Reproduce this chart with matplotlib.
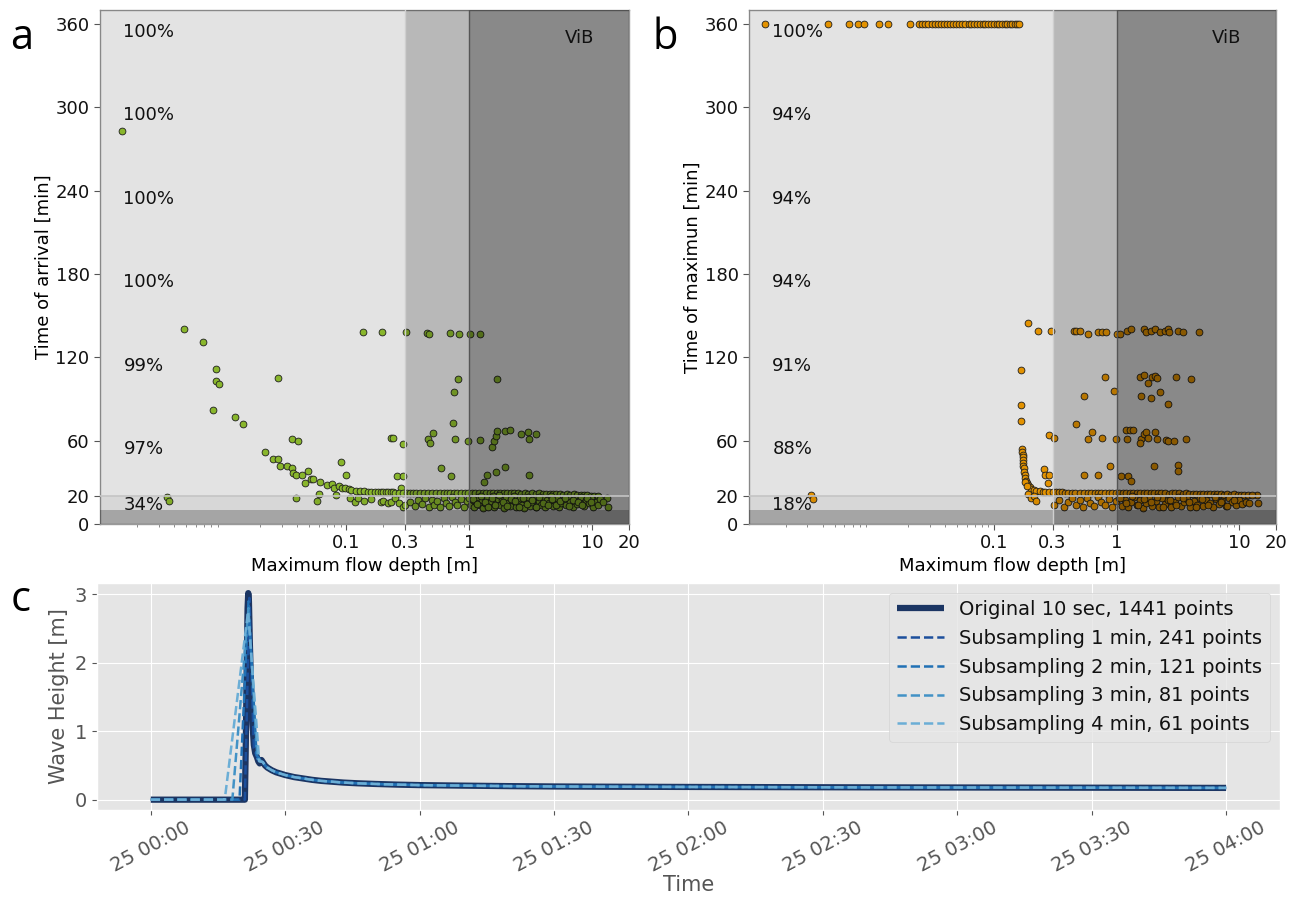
import numpy as np
import pandas as pd
import matplotlib
matplotlib.use('Agg')
import matplotlib.pyplot as plt
import matplotlib.dates as mdates
from matplotlib.ticker import FixedLocator, FixedFormatter, LogLocator, NullFormatter

# ---------------- panel a: time of arrival vs max flow depth ----------------
a_x = [0.0015, 0.0035, 0.0036, 0.0048, 0.0069, 0.0087, 0.0087, 0.0092, 0.0082, 0.0126,
       0.0144, 0.0218, 0.0255, 0.0277, 0.029, 0.028, 0.036, 0.0405, 0.033, 0.036,
       0.037, 0.039, 0.044, 0.049, 0.046, 0.039, 0.052, 0.054, 0.061, 0.060,
       0.058, 0.07, 0.076, 0.079, 0.082, 0.087, 0.092, 0.098, 0.106, 0.09,
       0.1, 0.108, 0.117, 0.138, 0.196, 0.304, 0.45, 0.47, 0.70, 0.82,
       1.02, 1.21, 0.229, 0.24, 0.29, 0.26, 0.29, 0.28, 0.46, 0.48,
       0.51, 0.59, 0.71, 0.75, 0.74, 0.81, 0.77, 0.98, 1.21, 1.69,
       1.32, 1.4, 1.65, 1.94, 1.54, 1.6, 1.64, 1.69, 1.94, 2.12,
       2.64, 3.0, 3.07, 3.45, 3.04, 13.2, 13.5,
       0.125, 0.14, 0.16, 0.19, 0.2, 0.22, 0.23, 0.25, 0.27, 0.29, 0.3]
a_y = [283, 19.7, 16.4, 140, 131, 111.5, 103, 101, 82, 77,
       72, 51.5, 47, 47, 41.5, 105, 61, 60, 41.5, 40,
       37, 35, 35, 38, 29.5, 18.5, 32.5, 32.5, 30, 21.5,
       16.4, 27.7, 28.5, 26, 20.5, 27, 25.6, 26, 25, 44.6,
       35, 18.5, 16, 138.5, 138, 138, 137.5, 137, 137.5, 137,
       136.4, 136.4, 62, 62, 57.7, 34.4, 34.4, 25.6, 61.3, 58.2,
       65.4, 40.5, 34.4, 95, 73, 104, 61.5, 60, 60.8, 104.4,
       30, 35, 37.4, 40.8, 55.6, 59.5, 63.3, 66.7, 66.7, 67.7,
       64.6, 66.4, 61, 64.6, 34.9, 18.5, 12,
       19, 16.5, 18, 15.5, 16.5, 15, 16, 19, 15, 12.5, 14]

# dense band just above 20 min
a_band_x = [0.11, 0.12, 0.13, 0.14, 0.15, 0.16, 0.17, 0.18, 0.19, 0.2, 0.21, 0.22, 0.23,
            0.24, 0.25, 0.27, 0.29, 0.31, 0.33, 0.35, 0.37, 0.4, 0.43, 0.46, 0.5, 0.54,
            0.58, 0.62, 0.66, 0.7, 0.75, 0.8, 0.86, 0.92, 0.98, 1.05, 1.12, 1.2, 1.28,
            1.37, 1.46, 1.56, 1.67, 1.78, 1.9, 2.03, 2.17, 2.32, 2.48, 2.65, 2.83, 3.02,
            3.23, 3.45, 3.68, 3.93, 4.2, 4.48, 4.78, 5.1, 5.45, 5.82, 6.2, 6.6, 7.05,
            7.5, 8.0, 8.5, 9.1, 9.7, 10.3, 11.0]
a_band_y = [24.5, 24.0, 23.8, 23.5, 23.3, 23.2, 23.0, 23.0, 22.9, 22.8, 22.8, 22.7, 22.7,
            22.7, 22.6, 22.6, 22.6, 22.6, 22.5, 22.5, 22.5, 22.5, 22.5, 22.5, 22.5, 22.5,
            22.4, 22.4, 22.4, 22.4, 22.4, 22.4, 22.4, 22.4, 22.3, 22.4, 22.5, 22.3, 22.6,
            22.2, 22.5, 22.3, 22.6, 22.1, 22.4, 22.2, 22.5, 22.0, 22.3, 21.8, 22.2, 21.9,
            22.1, 21.7, 22.0, 21.6, 21.9, 21.5, 21.8, 21.4, 21.7, 21.2, 21.5, 21.0, 21.3,
            20.8, 21.0, 20.6, 20.8, 20.4, 20.2, 19.8]

# scattered points below the band
a_low_x = [0.33, 0.36, 0.38, 0.41, 0.44, 0.47, 0.5, 0.52, 0.55, 0.58, 0.62, 0.65, 0.68,
           0.72, 0.76, 0.8, 0.85, 0.9, 0.95, 1.0, 1.03, 1.07, 1.1, 1.14, 1.18, 1.22,
           1.26, 1.3, 1.35, 1.4, 1.45, 1.5, 1.55, 1.6, 1.66, 1.72, 1.78, 1.85, 1.92,
           2.0, 2.07, 2.15, 2.23, 2.3, 2.4, 2.5, 2.6, 2.7, 2.8, 2.9, 3.0, 3.12, 3.25,
           3.38, 3.5, 3.65, 3.8, 3.95, 4.1, 4.25, 4.4, 4.6, 4.8, 5.0, 5.2, 5.4, 5.6,
           5.85, 6.1, 6.35, 6.6, 6.9, 7.2, 7.5, 7.8, 8.1, 8.5, 8.9, 9.3, 9.7, 10.1,
           10.6, 11.1, 11.6, 12.2,
           1.08, 1.16, 1.25, 1.33, 1.42, 1.52, 1.63, 1.75, 1.88, 2.02, 2.18, 2.35,
           2.55, 2.75, 2.95, 3.2, 3.45, 3.7, 4.0, 4.35, 4.7, 5.1, 5.5, 6.0, 6.5, 7.0,
           7.6, 8.3, 9.0, 9.8]
a_low_y = [16, 13, 17, 14.5, 19, 12.5, 17.5, 14, 16.5, 12, 18.5, 15, 13,
           19.5, 16, 14, 18, 12.5, 16.5, 19, 14, 17, 12, 15.5, 19.5, 13.5,
           17.5, 11.5, 15, 18.5, 13, 16.5, 20, 12.5, 15.5, 18, 13.5, 17, 11.5,
           19, 15, 13, 17.5, 20, 12, 16, 18.5, 14, 11.5, 17, 19.5, 13, 15.5,
           18, 12, 16.5, 14, 19, 12.5, 17, 15, 20, 13, 16.5, 18.5, 12, 15,
           17.5, 13.5, 19, 16, 12.5, 18, 14.5, 16.5, 19.5, 13, 17, 15, 18.5, 12,
           16, 14, 18, 15.5,
           18, 14.5, 20, 16, 12.5, 18.5, 14, 20.5, 15.5, 13, 18, 16.5,
           12, 19, 14.5, 17, 12.5, 19.5, 15, 13.5, 18, 14, 16.5, 19, 13, 17.5,
           15.5, 13.5, 18.5, 16]

a_pct = ['100%', '100%', '100%', '100%', '99%', '97%', '34%']

# ---------------- panel b: time of maximum vs max flow depth ----------------
b_top_x = [0.00135, 0.0044, 0.0065, 0.0078, 0.0086, 0.0116, 0.0135, 0.0207, 0.0244,
           0.026, 0.0275, 0.029, 0.031, 0.033, 0.035, 0.037, 0.039, 0.041, 0.044,
           0.046, 0.049, 0.052, 0.055, 0.058, 0.062, 0.065, 0.069, 0.073, 0.077,
           0.081, 0.085, 0.09, 0.095, 0.1, 0.105, 0.11, 0.116, 0.122, 0.128, 0.134,
           0.14, 0.147, 0.154, 0.161]
b_top_y = [360] * len(b_top_x)

b_x = [0.0032, 0.0033, 0.189, 0.227, 0.294, 0.45, 0.47, 0.50, 0.58, 0.70, 0.76, 0.82,
       1.0, 1.07, 1.22, 1.32, 1.68, 1.74, 1.89, 2.07, 2.25, 2.49, 2.63, 2.69, 3.16,
       3.5, 4.7, 0.165, 0.165, 0.167,
       0.170, 0.170, 0.171, 0.171, 0.172, 0.172, 0.173, 0.174, 0.176, 0.178, 0.180,
       0.183, 0.186, 0.19, 0.195, 0.2, 0.21, 0.22, 0.235, 0.25, 0.18, 0.185,
       0.19, 0.2, 0.21, 0.22, 0.28, 0.31, 0.255, 0.26, 0.28, 0.275,
       0.47, 0.54, 0.63, 0.58, 0.76, 0.8, 0.96, 0.98, 0.54, 0.71, 0.89, 1.08, 1.24,
       1.32, 1.2, 1.29, 1.37, 1.22, 1.55, 1.68, 1.79, 1.96, 2.07, 2.13, 3.04, 4.07,
       1.57, 1.89, 2.25, 2.63, 1.58, 1.68, 1.74, 1.81, 2.04, 2.13, 2.53, 2.63, 2.92,
       3.7, 1.55, 2.0, 3.16, 3.16, 13.9, 14.3, 10.8]
b_y = [21, 17.7, 144.5, 139, 139, 139, 139, 139, 137, 138, 138, 138,
       137, 136.5, 139, 140, 140, 138, 139, 140, 138, 139, 140, 138, 139,
       138, 138.5, 110.7, 85.8, 73.8,
       54, 52, 50, 48, 46, 44, 42, 40, 37.5, 35, 33,
       31, 29.5, 28, 26.5, 25.5, 24.5, 24, 23.5, 23.2, 30, 27,
       21.8, 18.5, 20, 16.5, 64, 62, 39.5, 35.6, 35.6, 29.2,
       72, 92, 66, 61.5, 62, 106, 96, 61.5, 35, 35, 41.5, 34.5, 34.5,
       30.7, 67.6, 67.6, 67.6, 61, 105.5, 107, 101.7, 105.5, 106.6, 105, 105.5, 104,
       92, 91, 95, 86.6, 61, 64.5, 66.4, 62, 66.4, 61, 60.5, 59.5, 60,
       61, 58, 41.5, 42.8, 38.4, 21, 15, 15]

b_band_x = [0.26, 0.28, 0.3, 0.32, 0.34, 0.36, 0.38, 0.4, 0.43, 0.46, 0.5, 0.54, 0.58,
            0.62, 0.66, 0.7, 0.75, 0.8, 0.86, 0.92, 0.98, 1.05, 1.12, 1.2, 1.28, 1.37,
            1.46, 1.56, 1.67, 1.78, 1.9, 2.03, 2.17, 2.32, 2.48, 2.65, 2.83, 3.02, 3.23,
            3.45, 3.68, 3.93, 4.2, 4.48, 4.78, 5.1, 5.45, 5.82, 6.2, 6.6, 7.05, 7.5, 8.0,
            8.5, 9.1, 9.7, 10.3, 11.0, 11.8, 12.6]
b_band_y = [23.0, 22.9, 22.8, 22.8, 22.7, 22.7, 22.6, 22.6, 22.6, 22.5, 22.5, 22.5, 22.5,
            22.4, 22.5, 22.4, 22.5, 22.4, 22.4, 22.3, 22.4, 22.3, 22.5, 22.2, 22.4, 22.3,
            22.5, 22.2, 22.4, 22.1, 22.3, 22.0, 22.4, 22.1, 22.3, 21.9, 22.2, 22.0, 22.1,
            21.8, 22.0, 21.7, 21.9, 21.6, 21.8, 21.5, 21.7, 21.4, 21.6, 21.3, 21.5, 21.2,
            21.4, 21.1, 21.3, 21.0, 21.2, 20.9, 21.0, 21.1]

b_low_x = [0.31, 0.34, 0.37, 0.4, 0.43, 0.47, 0.5, 0.53, 0.57, 0.61, 0.65, 0.7, 0.75,
           0.8, 0.86, 0.92, 0.98, 1.04, 1.1, 1.16, 1.23, 1.3, 1.38, 1.46, 1.55, 1.64,
           1.74, 1.85, 1.96, 2.08, 2.2, 2.34, 2.48, 2.63, 2.8, 2.97, 3.15, 3.35, 3.55,
           3.77, 4.0, 4.25, 4.5, 4.8, 5.1, 5.4, 5.75, 6.1, 6.5, 6.9, 7.3, 7.8, 8.3,
           8.8, 9.4, 10.0, 10.6, 11.3, 12.0,
           1.07, 1.2, 1.34, 1.5, 1.68, 1.9, 2.14, 2.4, 2.7, 3.05, 3.45, 3.9, 4.4, 5.0,
           5.6, 6.3, 7.1, 8.0, 9.0]
b_low_y = [14, 17.5, 12, 16, 19, 13.5, 17, 12.5, 18.5, 15, 13, 19.5, 16,
           14, 18, 12.5, 16.5, 19, 13, 17.5, 12, 15.5, 19.5, 13.5, 17, 11.5,
           15, 18.5, 13, 16.5, 12, 19, 14.5, 17, 12.5, 16, 19.5, 13, 15.5,
           18, 12.5, 16.5, 14, 19, 13, 17.5, 15, 12.5, 18, 14.5, 16.5, 13, 19,
           15.5, 13.5, 17.5, 14.5, 16, 15,
           18.5, 15, 20, 13.5, 18, 15.5, 19.5, 12.5, 17.5, 14, 19, 15.5, 12.5, 18,
           14, 19.5, 16, 13, 17.5]

b_pct = ['100%', '94%', '94%', '94%', '91%', '88%', '18%']

pct_levels = [360, 300, 240, 180, 120, 60, 20]
y_ticks = [0, 20, 60, 120, 180, 240, 300, 360]
x_ticks = [0.1, 0.3, 1, 10, 20]
x_ticklabels = ['0.1', '0.3', '1', '10', '20']

# ---------------- panel c: wave height time series (minutes from 00:00) ----------------
orig_t = [0, 21.0, 21.2, 21.4, 21.6, 21.75, 21.9, 22.1, 22.4, 22.7, 23.0, 23.3, 23.7,
          24.0, 24.3, 24.7, 25.0, 25.5, 26, 27, 28, 29, 30, 32, 34, 36, 38, 40, 43, 46,
          50, 55, 60, 70, 80, 90, 100, 120, 140, 160, 180, 200, 220, 240]
orig_v = [0, 0, 0.8, 1.9, 2.8, 3.02, 2.9, 2.3, 1.6, 1.1, 0.8, 0.68, 0.62,
          0.56, 0.53, 0.58, 0.55, 0.5, 0.47, 0.43, 0.40, 0.38, 0.36, 0.33, 0.31, 0.29,
          0.275, 0.265, 0.25, 0.24, 0.23, 0.22, 0.213, 0.205, 0.198, 0.193, 0.19, 0.186,
          0.183, 0.18, 0.178, 0.176, 0.174, 0.172]

sub_head_t = {1: [0, 21, 22, 23, 24],
              2: [0, 19.8, 21.8, 23.6],
              3: [0, 18.2, 21.8, 23.8],
              4: [0, 16.5, 21.7, 24.2]}
sub_head_v = {1: [0, 0, 2.95, 0.75, 0.57],
              2: [0, 0, 2.9, 0.65],
              3: [0, 0, 2.8, 0.6],
              4: [0, 0, 2.75, 0.56]}
sub_points = {1: 241, 2: 121, 3: 81, 4: 61}
sub_colors = {1: '#1c4f9c', 2: '#2171b5', 3: '#4292c6', 4: '#6baed6'}
tail_start = orig_t.index(25.0)

# ======================================================================
fig = plt.figure(figsize=(13.06, 8.98), dpi=100)
fig.patch.set_facecolor('white')


def scatter_panel(ax, groups, color, pct, ylabel):
    for gx, gy in groups:
        ax.scatter(gx, gy, s=24, c=color, edgecolors='#222222', linewidths=0.6, zorder=2)
    ax.set_xscale('log')
    ax.set_xlim(0.001, 20)
    ax.set_ylim(0, 370)
    # shaded depth / time zones, drawn over the points
    ax.axvspan(0.001, 20, color='black', alpha=0.11, lw=0, zorder=3)
    ax.axvspan(0.3, 20, color='black', alpha=0.19, lw=0, zorder=3)
    ax.axvspan(1, 20, color='black', alpha=0.25, lw=0, zorder=3)
    ax.axhspan(10, 20, color='black', alpha=0.05, lw=0, zorder=3)
    ax.axhspan(0, 10, color='black', alpha=0.27, lw=0, zorder=3)
    ax.axhline(20, color='#c4c4c4', lw=1.2, zorder=3)
    ax.axvline(0.3, color='#cfcfcf', lw=1.0, zorder=3)
    ax.axvline(1, color='#555555', lw=1.0, zorder=3)
    for lvl, txt in zip(pct_levels, pct):
        ax.text(0.00155, lvl - 6, txt, fontsize=13, va='center', ha='left',
                color='#111111', zorder=4)
    ax.text(7.9, 350, 'ViB', fontsize=13, ha='center', va='center', color='#111111', zorder=4)
    ax.yaxis.set_major_locator(FixedLocator(y_ticks))
    ax.xaxis.set_major_locator(FixedLocator(x_ticks))
    ax.xaxis.set_major_formatter(FixedFormatter(x_ticklabels))
    ax.xaxis.set_minor_locator(LogLocator(base=10, subs=np.arange(2, 10), numticks=20))
    ax.xaxis.set_minor_formatter(NullFormatter())
    ax.tick_params(axis='both', which='major', labelsize=13, direction='out',
                   length=4, color='#555555', labelcolor='#111111')
    ax.tick_params(axis='x', which='minor', length=2.5, color='#777777')
    ax.set_xlabel('Maximum flow depth [m]', fontsize=13, labelpad=3)
    ax.set_ylabel(ylabel, fontsize=13, labelpad=2)
    for sp in ax.spines.values():
        sp.set_color('#999999')
        sp.set_linewidth(1.0)


ax_a = fig.add_axes([0.0766, 0.4165, 0.4054, 0.5725])
scatter_panel(ax_a, [(a_x, a_y), (a_band_x, a_band_y), (a_low_x, a_low_y)],
              '#9acd32', a_pct, 'Time of arrival [min]')

ax_b = fig.add_axes([0.5735, 0.4165, 0.4036, 0.5725])
scatter_panel(ax_b, [(b_top_x, b_top_y), (b_x, b_y), (b_band_x, b_band_y), (b_low_x, b_low_y)],
              '#ffa500', b_pct, 'Time of maximun [min]')

with plt.style.context('ggplot'):
    ax_c = fig.add_axes([0.0743, 0.098, 0.9057, 0.253])
    t0 = pd.Timestamp('2020-01-25 00:00')
    tt = t0 + pd.to_timedelta(orig_t, unit='min')
    ax_c.plot(tt, orig_v, color='#1b3563', lw=4.5, solid_capstyle='butt',
              label='Original 10 sec, 1441 points', zorder=2)
    for k in [1, 2, 3, 4]:
        st = list(sub_head_t[k]) + orig_t[tail_start:]
        sv = list(sub_head_v[k]) + orig_v[tail_start:]
        ax_c.plot(t0 + pd.to_timedelta(st, unit='min'), sv, color=sub_colors[k],
                  lw=1.8, ls='--', label='Subsampling %d min, %d points' % (k, sub_points[k]),
                  zorder=3)
    ax_c.xaxis.set_major_locator(mdates.MinuteLocator(byminute=[0, 30]))
    ax_c.xaxis.set_major_formatter(mdates.DateFormatter('%d %H:%M'))
    ax_c.set_yticks([0, 1, 2, 3])
    ax_c.tick_params(axis='x', labelsize=14, colors='#555555', pad=2)
    ax_c.tick_params(axis='y', labelsize=14, colors='#555555')
    for lab in ax_c.get_xticklabels():
        lab.set_rotation(28)
        lab.set_ha('center')
    ax_c.set_xlabel('Time', fontsize=15, color='#555555', labelpad=0)
    ax_c.set_ylabel('Wave Height [m]', fontsize=15, color='#555555')
    leg = ax_c.legend(loc='upper right', fontsize=14, framealpha=0.8,
                      facecolor='#e5e5e5', edgecolor='#d0d0d0', handlelength=2.4)
    for t in leg.get_texts():
        t.set_color('#111111')

fig.text(0.008, 0.945, 'a', fontsize=30, family='Open Sans')
fig.text(0.500, 0.945, 'b', fontsize=30, family='Open Sans')
fig.text(0.008, 0.320, 'c', fontsize=30, family='Open Sans')

fig.savefig('out.png', dpi=100)
